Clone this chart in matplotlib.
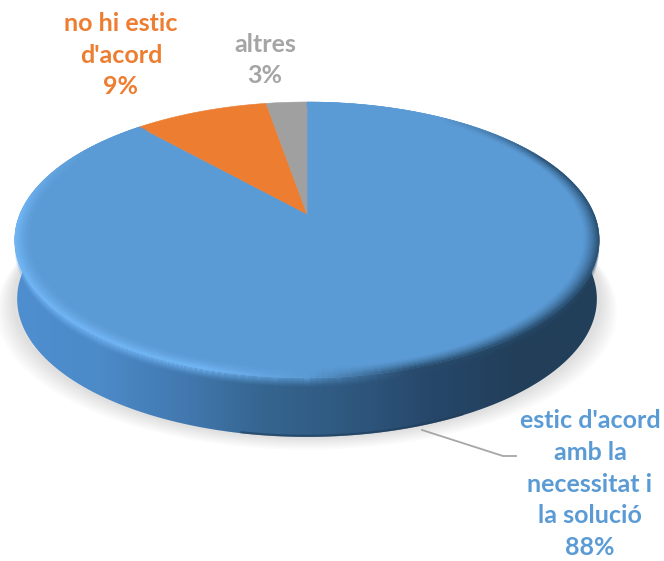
import numpy as np
import matplotlib
matplotlib.use("Agg")
import matplotlib.pyplot as plt
from matplotlib.patches import Polygon
from matplotlib.collections import PolyCollection
from matplotlib.colors import to_rgb, LinearSegmentedColormap

plt.rcParams["font.family"] = ["Lato", "DejaVu Sans"]

# Data (slice sizes, labels show them rounded)
categories = ["estic d'acord\namb la\nnecessitat i\nla solució", "no hi estic\nd'acord", "altres"]
values = [88.4, 8.9, 2.7]
colors = ["#5b9bd5", "#ed7d31", "#a0a0a0"]
label_colors = ["#5b9bd5", "#ed7d31", "#a5a5a5"]
label_pos = [(590, 484), (121, 55), (265, 60)]

# Side shading, left to right
side_colors = ["#4f8fd0", "#4c8ac8", "#4279b0", "#35658f", "#2f587f", "#27476a", "#223f5a", "#233f5a"]


def project(theta, r=1.0, dy=0.0, shrink=1.0):
    # perspective disk: theta is clockwise from the top, result in pixels
    u = r * np.sin(theta)
    v = r * np.cos(theta)
    den = 1 + 0.188 * v
    x = 307 + 287 * shrink * u / den
    y = (214 - 92.8 * v) / den + dy
    return x, y


def rim_color(m):
    # bright on the front left, dark on the front right
    s = np.sin(m)
    fade = np.clip((0.55 - np.cos(m)) / 0.55, 0, 1)
    if s < 0:
        return flat + (light - flat) * min(-s / 0.3, 1) * fade
    fade = np.clip((0.85 - np.cos(m)) / 0.4, 0, 1)
    return flat + (dark - flat) * min(s / 0.3, 1) * fade


fig = plt.figure(figsize=(6.64, 5.61), dpi=100)
ax = fig.add_axes([0, 0, 1, 1])
ax.set_xlim(0, 664)
ax.set_ylim(561, 0)
ax.axis("off")

all_t = np.linspace(0, 2 * np.pi, 361)
flat = np.array(to_rgb(colors[0]))
light = np.array(to_rgb("#74b8f8"))
dark = np.array(to_rgb("#284c6c"))

# Soft shadow under the slab
for k in np.arange(16, 0, -2):
    sx, sy = project(all_t, dy=59 + k * 0.8)
    sx = 307 + (sx - 307) * (1 + k / 260)
    ax.add_patch(Polygon(np.c_[sx, sy], fc="black", ec="none", alpha=0.017, zorder=1))

# Side of the slab
front = np.linspace(np.pi * 0.5, np.pi * 1.5, 181)
tx, ty = project(front)
bx, by = project(front, dy=59, shrink=0.992)
side = Polygon(np.r_[np.c_[tx, ty], np.c_[bx, by][::-1]], fc="none", ec="none", zorder=2)
ax.add_patch(side)
cmap = LinearSegmentedColormap.from_list("side", side_colors)
img = ax.imshow(np.linspace(0, 1, 300).reshape(1, -1), cmap=cmap, aspect="auto",
                extent=(15, 600, 445, 240), zorder=2)
img.set_clip_path(side)
ax.set_xlim(0, 664)
ax.set_ylim(561, 0)

# Darker lip along the bottom of the slab
lip = np.linspace(np.pi * 0.85, np.pi * 1.06, 60)
lx, ly = project(lip, dy=58, shrink=0.992)
ax.plot(lx, ly, color="#1f3c58", lw=1.6, alpha=0.6, zorder=2)

# Top of the pie, clockwise from 12 o'clock
start = 0.0
for val, col in zip(values, colors):
    end = start + val / sum(values) * 2 * np.pi
    t = np.linspace(start, end, max(int(val * 6), 4))
    x, y = project(t)
    ax.add_patch(Polygon(np.r_[[[307, 214]], np.c_[x, y]], fc=col, ec=col, lw=0.4, zorder=3))
    start = end

# Bevel on the rim of the big slice, first across the top face
end_big = values[0] / sum(values) * 2 * np.pi
radii = np.linspace(0.945, 1.0, 12)
ts = np.linspace(0, end_big, 320)
for r0, r1 in zip(radii[:-1], radii[1:]):
    prof = ((r0 + r1) / 2 - 0.945) / 0.055
    polys = []
    cols = []
    for a, b in zip(ts[:-1], ts[1:]):
        x0, y0 = project(a, r0)
        x1, y1 = project(b, r0)
        x2, y2 = project(b, r1)
        x3, y3 = project(a, r1)
        polys.append([(x0, y0), (x1, y1), (x2, y2), (x3, y3)])
        c = flat + (rim_color((a + b) / 2) - flat) * prof ** 1.5
        cols.append(c)
    ax.add_collection(PolyCollection(polys, facecolors=cols, edgecolors=cols, linewidths=0.3, zorder=4))

# then fading down into the side
steps = np.arange(0, 10)
fs = np.linspace(np.pi * 0.5, np.pi * 1.5, 180)
for d in steps:
    alpha = (1 - (d + 0.5) / 10) ** 1.4
    polys = []
    cols = []
    for a, b in zip(fs[:-1], fs[1:]):
        x0, y0 = project(a, dy=d)
        x1, y1 = project(b, dy=d)
        x2, y2 = project(b, dy=d + 1)
        x3, y3 = project(a, dy=d + 1)
        polys.append([(x0, y0), (x1, y1), (x2, y2), (x3, y3)])
        cols.append((*rim_color((a + b) / 2), alpha))
    ax.add_collection(PolyCollection(polys, facecolors=cols, edgecolors="none", zorder=3))

# Leader line
ax.plot([422, 503, 516], [430, 456, 456], color="#a6a6a6", lw=1.3, zorder=5)

# Labels
for name, val, col, pos in zip(categories, values, label_colors, label_pos):
    ax.text(pos[0], pos[1], f"{name}\n{val:.0f}%", color=col, fontsize=18, fontweight="bold",
            ha="center", va="center", linespacing=1.45, zorder=6)

fig.savefig("out.png", dpi=100)
